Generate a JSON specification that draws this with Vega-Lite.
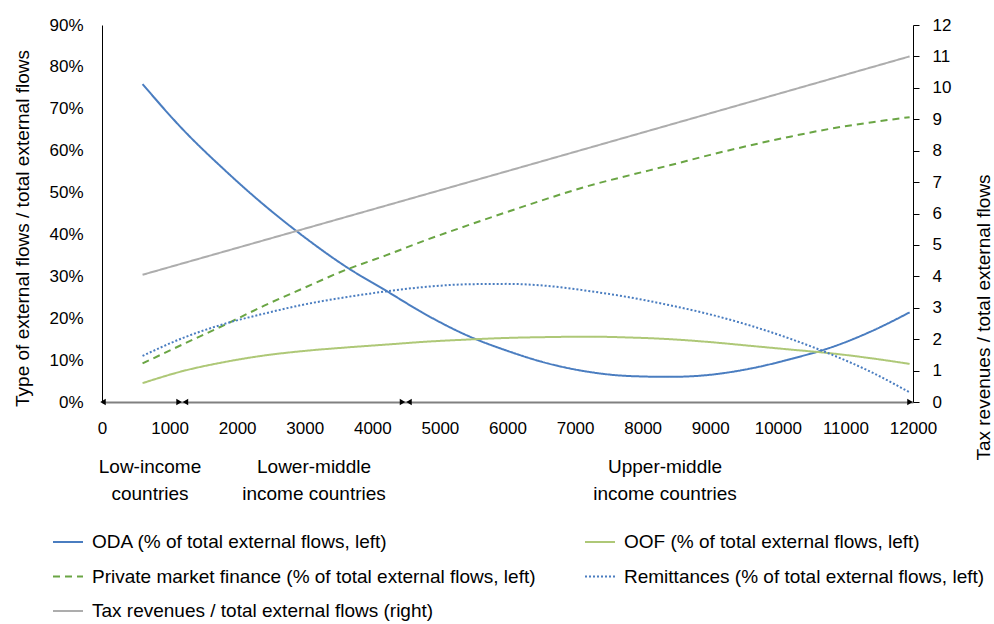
{
  "$schema": "https://vega.github.io/schema/vega-lite/v6.json",
  "width": 811,
  "height": 377,
  "autosize": {"type": "none"},
  "padding": {"left": 102, "top": 25, "right": 81, "bottom": 222},
  "background": "white",
  "config": {
    "font": "Liberation Sans",
    "view": {"stroke": null},
    "axis": {"grid": false, "labelColor": "#000000", "titleColor": "#000000", "titleFontWeight": "normal"},
    "legend": {
      "orient": "none",
      "direction": "horizontal",
      "legendX": -50,
      "legendY": 501,
      "columns": 2,
      "symbolType": "stroke",
      "symbolSize": 900,
      "symbolStrokeWidth": 2,
      "labelFontSize": 19,
      "labelColor": "#000000",
      "labelOffset": 8,
      "labelLimit": 700,
      "columnPadding": 45,
      "rowPadding": 8.5,
      "title": null
    }
  },
  "datasets": {
    "flows": [
      {"s": "ODA (% of total external flows, left)", "x": 600, "v": 75.9},
      {"s": "ODA (% of total external flows, left)", "x": 1200, "v": 65.0},
      {"s": "ODA (% of total external flows, left)", "x": 1800, "v": 55.6},
      {"s": "ODA (% of total external flows, left)", "x": 2400, "v": 47.0},
      {"s": "ODA (% of total external flows, left)", "x": 3000, "v": 39.3},
      {"s": "ODA (% of total external flows, left)", "x": 3600, "v": 32.4},
      {"s": "ODA (% of total external flows, left)", "x": 4200, "v": 26.6},
      {"s": "ODA (% of total external flows, left)", "x": 4800, "v": 20.8},
      {"s": "ODA (% of total external flows, left)", "x": 5400, "v": 15.9},
      {"s": "ODA (% of total external flows, left)", "x": 6000, "v": 12.2},
      {"s": "ODA (% of total external flows, left)", "x": 6600, "v": 9.2},
      {"s": "ODA (% of total external flows, left)", "x": 7200, "v": 7.2},
      {"s": "ODA (% of total external flows, left)", "x": 7800, "v": 6.2},
      {"s": "ODA (% of total external flows, left)", "x": 8400, "v": 6.0},
      {"s": "ODA (% of total external flows, left)", "x": 9000, "v": 6.5},
      {"s": "ODA (% of total external flows, left)", "x": 9600, "v": 8.0},
      {"s": "ODA (% of total external flows, left)", "x": 10200, "v": 10.3},
      {"s": "ODA (% of total external flows, left)", "x": 10800, "v": 13.1},
      {"s": "ODA (% of total external flows, left)", "x": 11400, "v": 17.0},
      {"s": "ODA (% of total external flows, left)", "x": 11950, "v": 21.4},
      {"s": "OOF (% of total external flows, left)", "x": 600, "v": 4.5},
      {"s": "OOF (% of total external flows, left)", "x": 1200, "v": 7.4},
      {"s": "OOF (% of total external flows, left)", "x": 1800, "v": 9.5},
      {"s": "OOF (% of total external flows, left)", "x": 2400, "v": 11.1},
      {"s": "OOF (% of total external flows, left)", "x": 3000, "v": 12.2},
      {"s": "OOF (% of total external flows, left)", "x": 3600, "v": 13.0},
      {"s": "OOF (% of total external flows, left)", "x": 4200, "v": 13.7},
      {"s": "OOF (% of total external flows, left)", "x": 4800, "v": 14.4},
      {"s": "OOF (% of total external flows, left)", "x": 5400, "v": 14.9},
      {"s": "OOF (% of total external flows, left)", "x": 6000, "v": 15.3},
      {"s": "OOF (% of total external flows, left)", "x": 6600, "v": 15.5},
      {"s": "OOF (% of total external flows, left)", "x": 7200, "v": 15.6},
      {"s": "OOF (% of total external flows, left)", "x": 7800, "v": 15.4},
      {"s": "OOF (% of total external flows, left)", "x": 8400, "v": 15.0},
      {"s": "OOF (% of total external flows, left)", "x": 9000, "v": 14.3},
      {"s": "OOF (% of total external flows, left)", "x": 9600, "v": 13.4},
      {"s": "OOF (% of total external flows, left)", "x": 10200, "v": 12.5},
      {"s": "OOF (% of total external flows, left)", "x": 10800, "v": 11.6},
      {"s": "OOF (% of total external flows, left)", "x": 11400, "v": 10.4},
      {"s": "OOF (% of total external flows, left)", "x": 11950, "v": 9.1},
      {"s": "Private market finance (% of total external flows, left)", "x": 600, "v": 9.2},
      {"s": "Private market finance (% of total external flows, left)", "x": 1200, "v": 13.8},
      {"s": "Private market finance (% of total external flows, left)", "x": 1800, "v": 18.3},
      {"s": "Private market finance (% of total external flows, left)", "x": 2400, "v": 23.0},
      {"s": "Private market finance (% of total external flows, left)", "x": 3000, "v": 27.3},
      {"s": "Private market finance (% of total external flows, left)", "x": 3600, "v": 31.5},
      {"s": "Private market finance (% of total external flows, left)", "x": 4200, "v": 35.0},
      {"s": "Private market finance (% of total external flows, left)", "x": 4800, "v": 38.7},
      {"s": "Private market finance (% of total external flows, left)", "x": 5400, "v": 42.1},
      {"s": "Private market finance (% of total external flows, left)", "x": 6000, "v": 45.4},
      {"s": "Private market finance (% of total external flows, left)", "x": 6600, "v": 48.6},
      {"s": "Private market finance (% of total external flows, left)", "x": 7200, "v": 51.6},
      {"s": "Private market finance (% of total external flows, left)", "x": 7800, "v": 54.1},
      {"s": "Private market finance (% of total external flows, left)", "x": 8400, "v": 56.5},
      {"s": "Private market finance (% of total external flows, left)", "x": 9000, "v": 59.0},
      {"s": "Private market finance (% of total external flows, left)", "x": 9600, "v": 61.3},
      {"s": "Private market finance (% of total external flows, left)", "x": 10200, "v": 63.4},
      {"s": "Private market finance (% of total external flows, left)", "x": 10800, "v": 65.3},
      {"s": "Private market finance (% of total external flows, left)", "x": 11400, "v": 66.8},
      {"s": "Private market finance (% of total external flows, left)", "x": 11950, "v": 68.0},
      {"s": "Remittances (% of total external flows, left)", "x": 600, "v": 11.0},
      {"s": "Remittances (% of total external flows, left)", "x": 1200, "v": 15.3},
      {"s": "Remittances (% of total external flows, left)", "x": 1800, "v": 18.6},
      {"s": "Remittances (% of total external flows, left)", "x": 2400, "v": 21.1},
      {"s": "Remittances (% of total external flows, left)", "x": 3000, "v": 23.3},
      {"s": "Remittances (% of total external flows, left)", "x": 3600, "v": 25.0},
      {"s": "Remittances (% of total external flows, left)", "x": 4200, "v": 26.4},
      {"s": "Remittances (% of total external flows, left)", "x": 4800, "v": 27.5},
      {"s": "Remittances (% of total external flows, left)", "x": 5400, "v": 28.1},
      {"s": "Remittances (% of total external flows, left)", "x": 6000, "v": 28.2},
      {"s": "Remittances (% of total external flows, left)", "x": 6600, "v": 27.7},
      {"s": "Remittances (% of total external flows, left)", "x": 7200, "v": 26.5},
      {"s": "Remittances (% of total external flows, left)", "x": 7800, "v": 25.0},
      {"s": "Remittances (% of total external flows, left)", "x": 8400, "v": 23.1},
      {"s": "Remittances (% of total external flows, left)", "x": 9000, "v": 20.9},
      {"s": "Remittances (% of total external flows, left)", "x": 9600, "v": 18.2},
      {"s": "Remittances (% of total external flows, left)", "x": 10200, "v": 15.0},
      {"s": "Remittances (% of total external flows, left)", "x": 10800, "v": 11.3},
      {"s": "Remittances (% of total external flows, left)", "x": 11400, "v": 7.0},
      {"s": "Remittances (% of total external flows, left)", "x": 11950, "v": 2.3}
    ],
    "tax": [
      {"s": "Tax revenues / total external flows (right)", "x": 600, "v": 4.05},
      {"s": "Tax revenues / total external flows (right)", "x": 6000, "v": 7.35},
      {"s": "Tax revenues / total external flows (right)", "x": 11950, "v": 11.0}
    ],
    "arrows": [
      {"x": 15, "dir": "left"},
      {"x": 1140, "dir": "right"},
      {"x": 1235, "dir": "left"},
      {"x": 4446, "dir": "right"},
      {"x": 4543, "dir": "left"},
      {"x": 11955, "dir": "right"}
    ],
    "groups": [
      {"x": 710, "label": "Low-income\ncountries"},
      {"x": 3137, "label": "Lower-middle\nincome countries"},
      {"x": 8330, "label": "Upper-middle\nincome countries"}
    ]
  },
  "layer": [
    {
      "layer": [
        {
          "data": {"name": "flows"},
          "mark": {"type": "line", "strokeWidth": 2, "interpolate": "monotone"},
          "encoding": {
            "x": {
              "field": "x", "type": "quantitative",
              "scale": {"domain": [0, 12000], "nice": false, "zero": false},
              "axis": {
                "values": [0, 1000, 2000, 3000, 4000, 5000, 6000, 7000, 8000, 9000, 10000, 11000, 12000],
                "ticks": false, "domainColor": "#808080", "domainWidth": 2,
                "labelFontSize": 17, "labelPadding": 18, "labelOverlap": false, "labelFlush": false,
                "format": "d", "title": null
              }
            },
            "y": {
              "field": "v", "type": "quantitative",
              "scale": {"domain": [0, 90], "nice": false},
              "axis": {
                "values": [0, 10, 20, 30, 40, 50, 60, 70, 80, 90],
                "labelExpr": "datum.value + '%'",
                "ticks": false, "domainColor": "#000000", "domainWidth": 1,
                "labelFontSize": 17, "labelPadding": 19,
                "title": "Type of external flows / total external flows",
                "titleFontSize": 19, "titleX": -74, "titleY": 203, "titleAngle": -90,
                "titleBaseline": "alphabetic", "titleAlign": "center"
              }
            },
            "color": {
              "field": "s", "type": "nominal",
              "scale": {
                "domain": [
                  "ODA (% of total external flows, left)",
                  "OOF (% of total external flows, left)",
                  "Private market finance (% of total external flows, left)",
                  "Remittances (% of total external flows, left)",
                  "Tax revenues / total external flows (right)"
                ],
                "range": ["#4A7DC0", "#AEC877", "#6AA544", "#4A7DC0", "#ADADAD"]
              }
            },
            "strokeDash": {
              "field": "s", "type": "nominal",
              "scale": {
                "domain": [
                  "ODA (% of total external flows, left)",
                  "OOF (% of total external flows, left)",
                  "Private market finance (% of total external flows, left)",
                  "Remittances (% of total external flows, left)",
                  "Tax revenues / total external flows (right)"
                ],
                "range": [[1, 0], [1, 0], [7, 5], [2, 2], [1, 0]]
              }
            }
          }
        },
        {
          "data": {"name": "arrows"},
          "transform": [{"filter": "datum.dir === 'left'"}],
          "mark": {"type": "point", "shape": "triangle-left", "filled": true, "color": "#000000", "opacity": 1, "size": 40},
          "encoding": {
            "x": {"field": "x", "type": "quantitative"},
            "y": {"datum": 0, "type": "quantitative"}
          }
        },
        {
          "data": {"name": "arrows"},
          "transform": [{"filter": "datum.dir === 'right'"}],
          "mark": {"type": "point", "shape": "triangle-right", "filled": true, "color": "#000000", "opacity": 1, "size": 40},
          "encoding": {
            "x": {"field": "x", "type": "quantitative"},
            "y": {"datum": 0, "type": "quantitative"}
          }
        },
        {
          "data": {"name": "groups"},
          "mark": {"type": "text", "lineBreak": "\n", "lineHeight": 27, "fontSize": 19, "baseline": "middle", "align": "center", "color": "#000000"},
          "encoding": {
            "x": {"field": "x", "type": "quantitative"},
            "y": {"datum": -15.6, "type": "quantitative"},
            "text": {"field": "label"}
          }
        }
      ]
    },
    {
      "data": {"name": "tax"},
      "mark": {"type": "line", "strokeWidth": 2},
      "encoding": {
        "x": {"field": "x", "type": "quantitative"},
        "y": {
          "field": "v", "type": "quantitative",
          "scale": {"domain": [0, 12], "nice": false},
          "axis": {
            "orient": "right",
            "values": [0, 1, 2, 3, 4, 5, 6, 7, 8, 9, 10, 11, 12],
            "ticks": true, "tickSize": 6, "tickColor": "#000000",
            "domainColor": "#000000",
            "labelFontSize": 17, "labelPadding": 13,
            "title": "Tax revenues / total external flows",
            "titleFontSize": 19, "titleX": 76, "titleY": 292, "titleAngle": 270,
            "titleBaseline": "alphabetic", "titleAlign": "center"
          }
        },
        "color": {"field": "s", "type": "nominal"},
        "strokeDash": {"field": "s", "type": "nominal"}
      }
    }
  ],
  "resolve": {"scale": {"y": "independent"}}
}
